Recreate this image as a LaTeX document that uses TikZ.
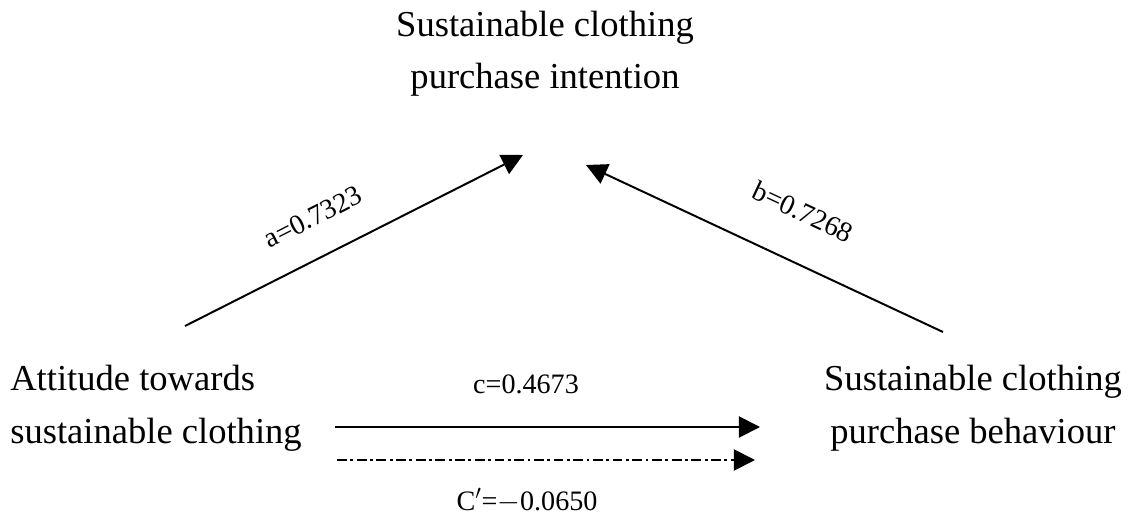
\documentclass[tikz,border=0pt]{standalone}
\usepackage{fontspec}
\setmainfont{Liberation Serif}
\usetikzlibrary{arrows.meta}
\newcommand\sizeVar{\fontsize{26}{37}\selectfont}
\newcommand\sizeCoef{\fontsize{20}{24}\selectfont}
\newcommand\tipLen{15pt}
\tikzset{
	var/.style={align=center, inner sep=0pt, font=\sizeVar},
	coef/.style={inner sep=0pt, font=\sizeCoef},
	effect/.style={line width=1.4pt, -{Triangle[length=\tipLen,width=\tipLen]}},
}
\begin{document}
\begin{tikzpicture}[x=0.025cm, y=-0.025cm]
	\useasboundingbox (0,0) rectangle (1131,524);
	
	% the three variables (base = last line)
	\node[var, anchor=base] (intent) at (545,89) {Sustainable clothing\\purchase intention};
	\node[var, align=left, anchor=base west] (attitude) at (10,443) {Attitude towards\\sustainable clothing};
	\node[var, anchor=base] (behaviour) at (973,443) {Sustainable clothing\\purchase behaviour};
	
	% free ends of the paths
	\coordinate (aFrom) at (185,326);
	\coordinate (aTo) at (523,155);
	\coordinate (bFrom) at (943,332);
	\coordinate (bTo) at (586,165);
	\coordinate (cFrom) at (335,427);
	\coordinate (cTo) at (760,427);
	\coordinate (dFrom) at (337,460);
	\coordinate (dTo) at (755,460);
	
	\draw[effect] (aFrom) -- (aTo);
	\draw[effect] (bFrom) -- (bTo);
	\draw[effect] (cFrom) -- (cTo);
	\draw[effect, dash pattern=on 7pt off 2.5pt on 2pt off 2.5pt] (dFrom) -- (dTo);
	
	% coefficients
	\node[coef, rotate=26.8] (aLabel) at (313,217) {a=0.7323};
	\node[coef, rotate=-25] (bLabel) at (803,212) {b=0.7268};
	\node[coef, anchor=base] (cLabel) at (526,393) {c=0.4673};
	\node[coef, anchor=base] (dLabel) at (527,510) {C$'$=$-$0.0650};
\end{tikzpicture}
\end{document}
